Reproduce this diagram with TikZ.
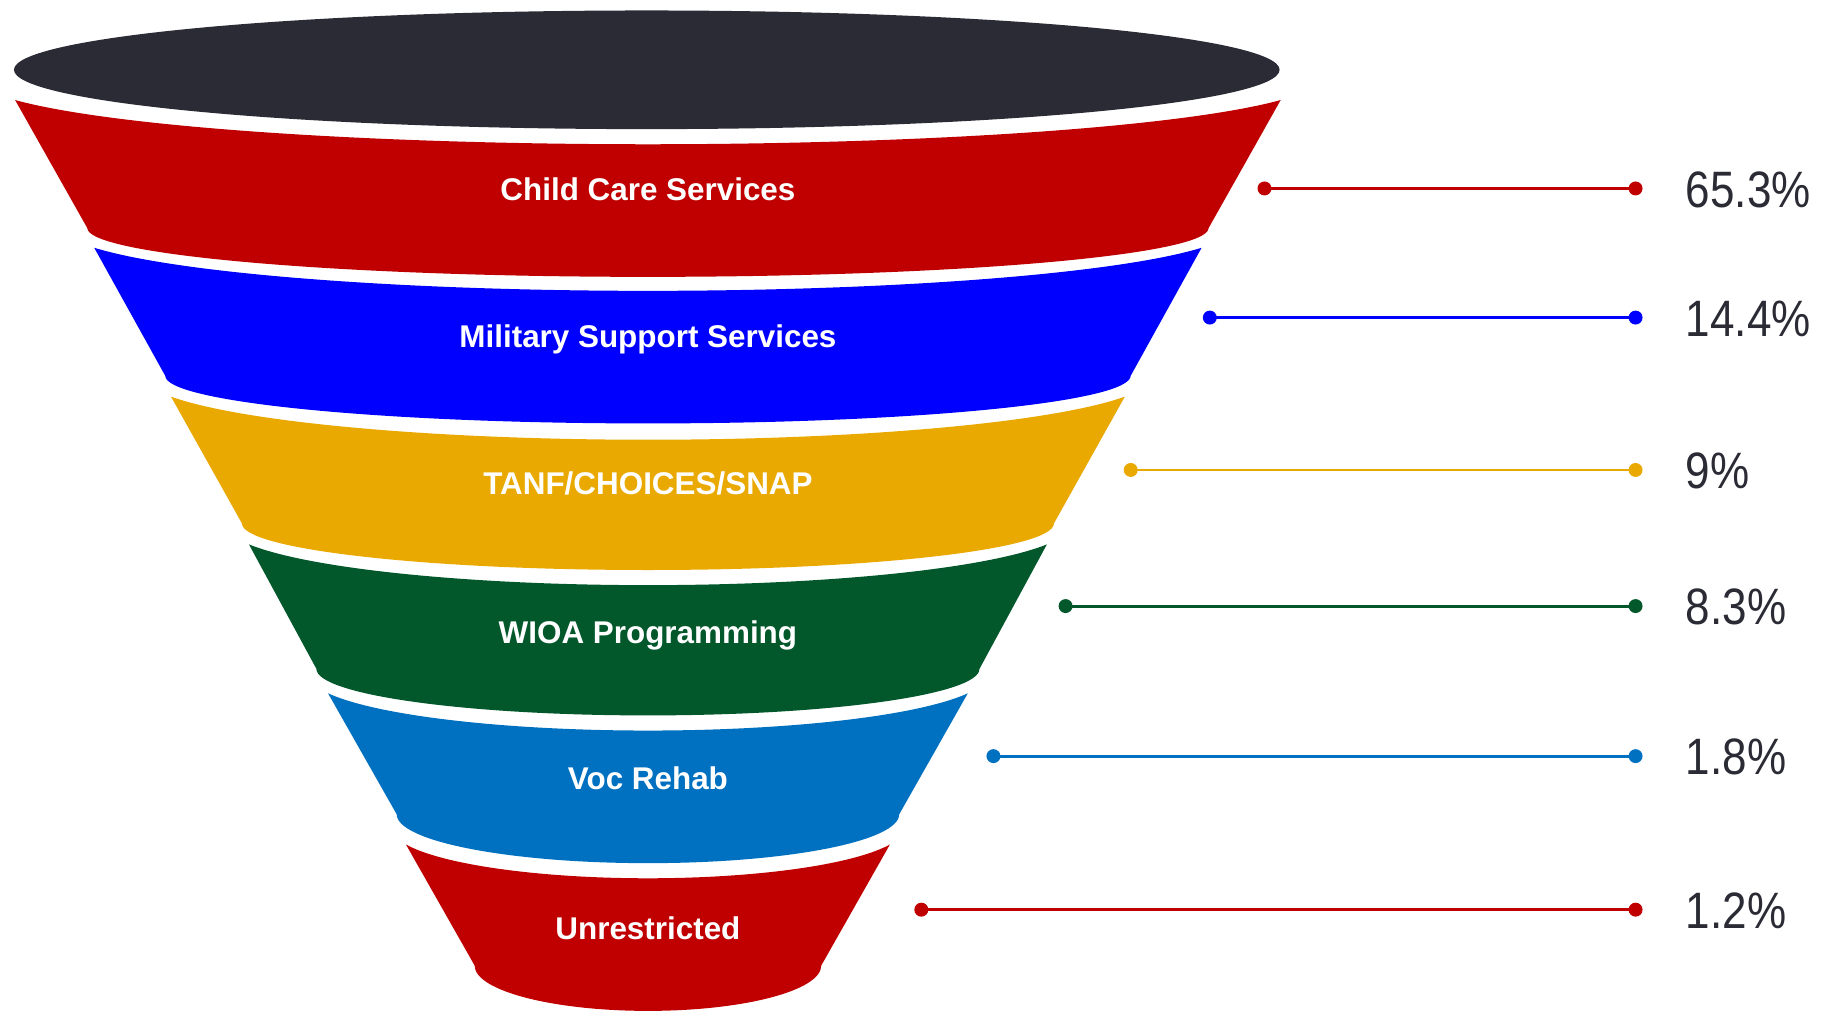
\documentclass[tikz,border=0pt]{standalone}
\usepackage{fontspec}
\setmainfont{Liberation Sans}
\newfontfamily\pctfont[FakeStretch=0.86]{Liberation Sans}
\definecolor{topdark}{HTML}{2B2B35}
\definecolor{cred}{HTML}{C00000}
\definecolor{cblue}{HTML}{0000FF}
\definecolor{cyellow}{HTML}{EAA900}
\definecolor{cgreen}{HTML}{02582B}
\definecolor{cmid}{HTML}{0070C0}
\newcommand{\bandshape}[7]{%
  \fill[#1] (557-#3,-#2) arc[start angle=200,end angle=340,x radius={#3/0.9397*1pt},y radius={#4/0.658*1pt}]
    -- (557+#6,-#5) arc[start angle=0,end angle=-180,x radius={#6*1pt},y radius={#7*1pt}] -- cycle;}
\tikzset{
  lbl/.style={text=white,inner sep=0pt,anchor=base,font=\bfseries\fontsize{27}{27}\selectfont},
  pct/.style={text=topdark,inner sep=0pt,anchor=base west,font=\pctfont\fontsize{44}{44}\selectfont},
  conn/.style={line width=2.5pt},
}
\begin{document}
\begin{tikzpicture}[x=1pt,y=1pt]
\useasboundingbox (0,0) rectangle (1568,-869);
% top ellipse
\fill[topdark] (556,-60) ellipse[x radius=544pt,y radius=51pt];
% bands
\bandshape{cred}{86}{544}{38}{196}{482}{42}
\bandshape{cblue}{213}{476}{37}{323}{415}{41}
\bandshape{cyellow}{341}{410}{37}{450}{349}{40}
\bandshape{cgreen}{468}{343}{35}{575}{285}{40}
\bandshape{cmid}{596}{275}{32}{700}{216}{42}
\bandshape{cred}{726}{208}{29}{830}{149}{39}
% labels
\node[lbl] (l1) at (557,-172) {Child Care Services};
\node[lbl] (l2) at (557,-299) {Military Support Services};
\node[lbl] (l3) at (557,-425) {TANF/CHOICES/SNAP};
\node[lbl] (l4) at (557,-553) {WIOA Programming};
\node[lbl] (l5) at (557,-679) {Voc Rehab};
\node[lbl] (l6) at (557,-808) {Unrestricted};
% connectors
\coordinate (a1) at (1087,-162); \coordinate (b1) at (1406,-162);
\coordinate (a2) at (1040,-273); \coordinate (b2) at (1406,-273);
\coordinate (a3) at (972,-404);  \coordinate (b3) at (1406,-404);
\coordinate (a4) at (916,-521);  \coordinate (b4) at (1406,-521);
\coordinate (a5) at (854,-650);  \coordinate (b5) at (1406,-650);
\coordinate (a6) at (792,-782);  \coordinate (b6) at (1406,-782);
\foreach \i/\c in {1/cred,2/cblue,3/cyellow,4/cgreen,5/cmid,6/cred}{
  \draw[conn,draw=\c] (a\i) -- (b\i);
  \fill[\c] (a\i) circle[radius=6pt] (b\i) circle[radius=6pt];
}
\node[pct] (p1) at (1449,-178) {65.3\%};
\node[pct] (p2) at (1449,-289) {14.4\%};
\node[pct] (p3) at (1449,-420) {9\%};
\node[pct] (p4) at (1449,-537) {8.3\%};
\node[pct] (p5) at (1449,-666) {1.8\%};
\node[pct] (p6) at (1449,-798) {1.2\%};
\end{tikzpicture}
\end{document}
